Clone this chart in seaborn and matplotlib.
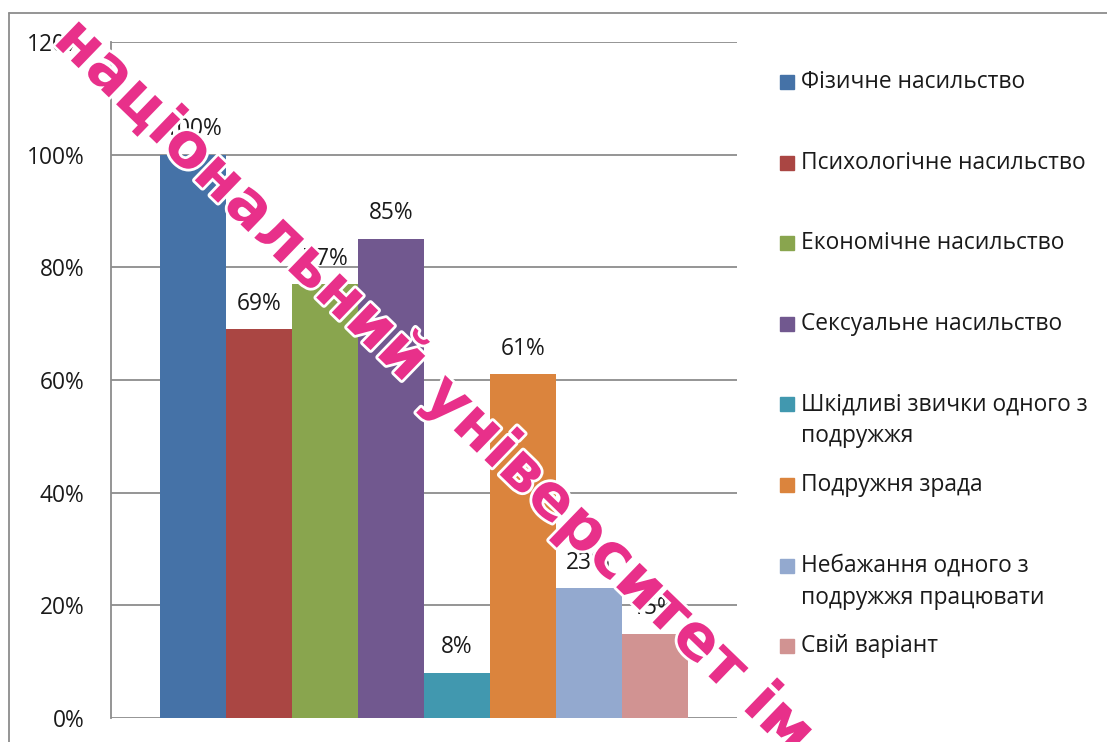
import matplotlib
matplotlib.use("Agg")
import matplotlib.pyplot as plt
import matplotlib.patheffects as pe
from matplotlib.lines import Line2D
from matplotlib.patches import Rectangle
from matplotlib.ticker import PercentFormatter
import seaborn as sns
import pandas as pd

# series (one category, eight answers)
labels = [
    "Фізичне насильство",
    "Психологічне насильство",
    "Економічне насильство",
    "Сексуальне насильство",
    "Шкідливі звички одного з\nподружжя",
    "Подружня зрада",
    "Небажання одного з\nподружжя працювати",
    "Свій варіант",
]
values = [1.00, 0.69, 0.77, 0.85, 0.08, 0.61, 0.23, 0.15]
value_text = ["100%", "69%", "77%", "85%", "8%", "61%", "23%", "15%"]
colors = ["#4572A7", "#AA4643", "#89A54E", "#71588F",
          "#4198AF", "#DB843D", "#93A9CF", "#D19392"]
yticks = [0, 0.2, 0.4, 0.6, 0.8, 1.0, 1.2]
watermark = "національний університет ім"

sns.set_style("white")
plt.rcParams["font.family"] = ["Open Sans", "DejaVu Sans"]

W, H = 1107, 742
fig = plt.figure(figsize=(W / 100, H / 100), dpi=100)
ax = fig.add_axes([111 / W, 1 - 718 / H, (737 - 111) / W, (718 - 42) / H])

df = pd.DataFrame({"answer": labels, "share": values})
sns.barplot(data=df, x="answer", y="share", hue="answer", palette=colors,
            width=1.0, saturation=1, errorbar=None, legend=False, ax=ax,
            linewidth=0, zorder=2)

ax.set_xlim(-1.25, len(labels) + 0.25)
ax.set_ylim(0, 1.2)
ax.set_yticks(yticks)
ax.yaxis.set_major_formatter(PercentFormatter(1.0, decimals=0))
ax.set_xticks([])
ax.set_xlabel("")
ax.set_ylabel("")
ax.grid(axis="y", color="#8c8c8c", linewidth=1.3, zorder=0)
ax.set_axisbelow(True)
for s in ["top", "right", "bottom"]:
    ax.spines[s].set_visible(False)
ax.spines["left"].set_color("#8c8c8c")
ax.spines["left"].set_linewidth(1.3)
ax.tick_params(axis="y", length=6, width=1.3, color="#8c8c8c",
               labelsize=16.4, labelcolor="#1a1a1a", pad=13)

# data labels above bars
for bar, txt in zip(ax.patches, value_text):
    ax.annotate(txt, (bar.get_x() + bar.get_width() / 2, bar.get_height()),
                xytext=(0, 18.5), textcoords="offset points",
                ha="center", va="center", fontsize=16.4, color="#1a1a1a",
                zorder=5)

# legend on the right
y0, step, line2 = 82, 80.6, 32
for i, (lab, col) in enumerate(zip(labels, colors)):
    yc = y0 + i * step
    fig.patches.append(Rectangle((780 / W, 1 - (yc + 7) / H), 14 / W, 14 / H,
                                 transform=fig.transFigure, color=col))
    for j, part in enumerate(lab.split("\n")):
        fig.text(801 / W, 1 - (yc + j * line2) / H, part, ha="left",
                 va="center", fontsize=16.4, color="#1a1a1a")

# outer chart border (cropped)
fig.lines.append(Line2D([9 / W, 1], [1 - 13 / H, 1 - 13 / H],
                        transform=fig.transFigure, color="#8c8c8c", lw=1.3))
fig.lines.append(Line2D([9 / W, 9 / W], [1 - 13 / H, 0],
                        transform=fig.transFigure, color="#8c8c8c", lw=1.3))

# repository watermark
fig.text(433 / W, 1 - 386 / H, watermark, rotation=-44, rotation_mode="anchor",
         ha="center", va="center", fontsize=44.5, fontweight="bold",
         family="DejaVu Sans", color="#E8308A", zorder=10,
         path_effects=[pe.withStroke(linewidth=4, foreground="white")])

fig.savefig("out.png", dpi=100)
